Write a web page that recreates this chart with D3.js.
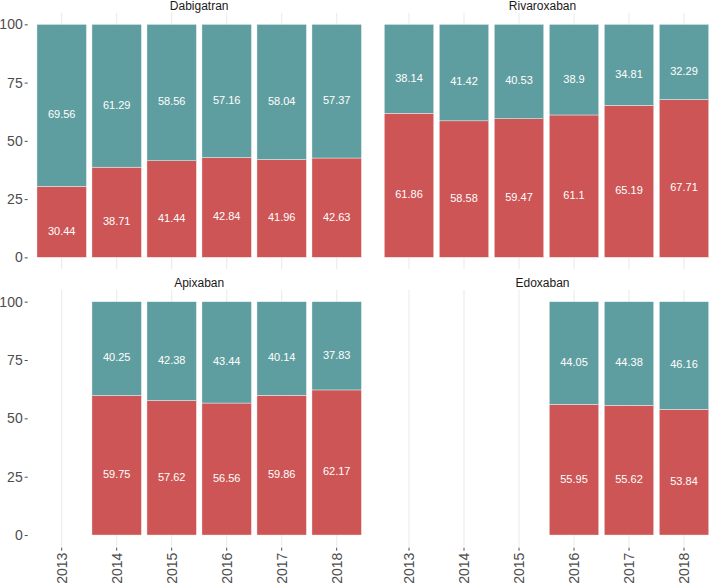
<!DOCTYPE html>
<html><head><meta charset="utf-8">
<script src="https://cdn.jsdelivr.net/npm/d3@7"></script>
<style>body{margin:0;background:#fff}svg{display:block;font-family:"Liberation Sans",Arial,sans-serif}</style>
</head><body><svg id="c" width="709" height="585"></svg>
<script>
const years = ["2013","2014","2015","2016","2017","2018"];
const drugs = ["Dabigatran","Rivaroxaban","Apixaban","Edoxaban"];
const yTicks = [0,25,50,75,100];
// red (bottom) and teal (top) shares per drug, keyed by year
const dabigatranRed  = {"2013":30.44,"2014":38.71,"2015":41.44,"2016":42.84,"2017":41.96,"2018":42.63};
const dabigatranTeal = {"2013":69.56,"2014":61.29,"2015":58.56,"2016":57.16,"2017":58.04,"2018":57.37};
const rivaroxabanRed  = {"2013":61.86,"2014":58.58,"2015":59.47,"2016":61.1,"2017":65.19,"2018":67.71};
const rivaroxabanTeal = {"2013":38.14,"2014":41.42,"2015":40.53,"2016":38.9,"2017":34.81,"2018":32.29};
const apixabanRed  = {"2014":59.75,"2015":57.62,"2016":56.56,"2017":59.86,"2018":62.17};
const apixabanTeal = {"2014":40.25,"2015":42.38,"2016":43.44,"2017":40.14,"2018":37.83};
const edoxabanRed  = {"2016":55.95,"2017":55.62,"2018":53.84};
const edoxabanTeal = {"2016":44.05,"2017":44.38,"2018":46.16};

const seriesByDrug = {
  Dabigatran:[dabigatranRed,dabigatranTeal],
  Rivaroxaban:[rivaroxabanRed,rivaroxabanTeal],
  Apixaban:[apixabanRed,apixabanTeal],
  Edoxaban:[edoxabanRed,edoxabanTeal]
};
const colors = ["#CD5555","#5F9EA0"];

const svg = d3.select("#c");
const colX = [[28.7,369.7],[376,717]];
const rowY = [[269,12.7],[546.7,290]];

drugs.forEach((drug,i)=>{
  const col = i%2, row = Math.floor(i/2);
  const x = d3.scaleBand().domain(years).range(colX[col]).paddingInner(0.1).paddingOuter(0.15);
  const y = d3.scaleLinear().domain([-5,105]).range(rowY[row]);
  const g = svg.append("g");
  // vertical grid
  g.selectAll("line.grid").data(years).join("line")
    .attr("x1",d=>x(d)+x.bandwidth()/2).attr("x2",d=>x(d)+x.bandwidth()/2)
    .attr("y1",rowY[row][1]).attr("y2",rowY[row][0])
    .attr("stroke","#ebebeb").attr("stroke-width",1.1);
  // strip title
  g.append("text").attr("x",(colX[col][0]+colX[col][1])/2 - (col?4:0)).attr("y",rowY[row][1]-3)
    .attr("text-anchor","middle").attr("font-size",12).attr("fill","#1a1a1a").text(drug);
  const [red,teal] = seriesByDrug[drug];
  const rows = years.filter(yr=>red[yr]!==undefined).map(yr=>({year:yr,red:red[yr],teal:teal[yr]}));
  const stack = d3.stack().keys(["red","teal"])(rows);
  stack.forEach((s,k)=>{
    g.selectAll(null).data(s).join("rect")
      .attr("x",d=>x(d.data.year)).attr("width",x.bandwidth())
      .attr("y",d=>y(d[1])).attr("height",d=>y(d[0])-y(d[1]))
      .attr("fill",colors[k]).attr("stroke","#fff").attr("stroke-width",0.4);
    g.selectAll(null).data(s).join("text")
      .attr("x",d=>x(d.data.year)+x.bandwidth()/2)
      .attr("y",d=>y((d[0]+d[1])/2)+9)
      .attr("dy","0.35em").attr("text-anchor","middle")
      .attr("font-size",11).attr("fill","#fff")
      .text(d=>d.data[k?"teal":"red"]);
  });
  // y axis (left column only)
  if(col===0){
    const ya = g.append("g").attr("transform",`translate(${colX[col][0]-1},0)`)
      .call(d3.axisLeft(y).tickValues(yTicks).tickSize(3).tickPadding(2));
    ya.select(".domain").remove();
    ya.selectAll(".tick line").attr("stroke","#4d4d4d");
    ya.selectAll("text").attr("font-size",14).attr("fill","#4d4d4d").attr("font-family","Liberation Sans, Arial, sans-serif");
  }
  if(row===1){
    const xa = g.append("g").attr("transform",`translate(0,${rowY[row][0]+1})`)
      .call(d3.axisBottom(x).tickSize(3).tickPadding(2));
    xa.select(".domain").remove();
    xa.selectAll(".tick line").attr("stroke","#4d4d4d");
    xa.selectAll("text").attr("font-size",14).attr("fill","#4d4d4d")
      .attr("font-family","Liberation Sans, Arial, sans-serif")
      .attr("transform","rotate(-90)").attr("text-anchor","end")
      .attr("x",-5).attr("y",0).attr("dy","0.35em");
  }
});
</script></body></html>
